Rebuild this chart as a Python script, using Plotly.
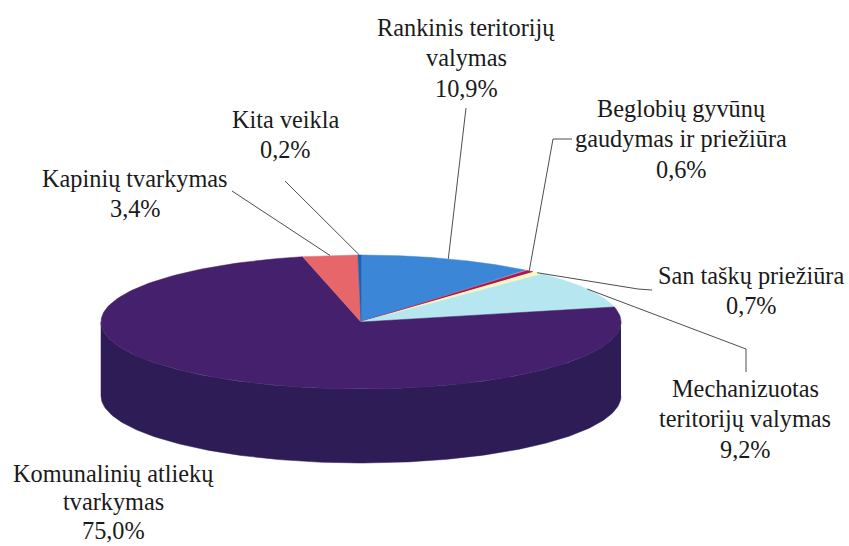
import numpy as np
import plotly.graph_objects as go

# ---- data ----
categories = ["Rankinis teritorijų valymas", "Beglobių gyvūnų gaudymas ir priežiūra",
              "San taškų priežiūra", "Mechanizuotas teritorijų valymas",
              "Komunalinių atliekų tvarkymas", "Kapinių tvarkymas", "Kita veikla"]
shares = [10.9, 0.6, 0.7, 9.2, 75.0, 3.4, 0.2]
label_lines = [["Rankinis teritorijų", "valymas", "10,9%"],
               ["Beglobių gyvūnų", "gaudymas ir priežiūra", "0,6%"],
               ["San taškų priežiūra", "0,7%"],
               ["Mechanizuotas", "teritorijų valymas", "9,2%"],
               ["Komunalinių atliekų", "tvarkymas", "75,0%"],
               ["Kapinių tvarkymas", "3,4%"],
               ["Kita veikla", "0,2%"]]

# ---- styling / layout ----
top_colors = ["#3b86d6", "#ae1650", "#fbf7bd", "#b6e6ef", "#45206d", "#e7666a", "#1f62ae"]
side_colors = ["#2a5f98", "#7a1038", "#b0ad85", "#80a2a8", "#2e1c56", "#a3484b", "#164578"]
CX, CY, RX, RY, DEPTH = 361, 322, 260, 67, 74
W, H = 849, 546
FONT = dict(family="Liberation Serif", size=24.3, color="#1a1a1a")
# label centre x / y of first line / line spacing
label_pos = [(466, 27), (681, 108), (751, 275), (745, 388), (113, 473), (135, 178), (285, 119)]
label_gap = [30.7, 30.7, 30.7, 30.7, 28.5, 30.7, 30.7]
# leader elbows, from text to the slice
leader_via = [[(466, 108)], [(572, 139), (553, 139)], [(652, 290), (638, 289)],
              [(746, 372), (746, 349)], [], [(232, 191)], [(285, 181)]]


def pt(deg, dy=0.0):
    r = np.radians(deg)
    return CX + RX * np.sin(r), CY - RY * np.cos(r) + dy


fig = go.Figure()


def poly(xs, ys, color):
    fig.add_trace(go.Scatter(x=xs, y=ys, mode="lines", fill="toself", fillcolor=color,
                             line=dict(color=color, width=0.5), hoverinfo="skip",
                             showlegend=False))


edges = np.cumsum([0] + shares) / sum(shares) * 360

# side walls first
for i in range(len(shares)):
    a, b = max(edges[i], 90), min(edges[i + 1], 270)
    if b <= a:
        continue
    t = np.linspace(a, b, 200)
    x1, y1 = pt(t)
    x2, y2 = pt(t[::-1], DEPTH)
    poly(list(x1) + list(x2), list(y1) + list(y2), side_colors[i])

# top faces
for i in range(len(shares)):
    t = np.linspace(edges[i], edges[i + 1], 200)
    x, y = pt(t)
    poly([CX] + list(x) + [CX], [CY] + list(y) + [CY], top_colors[i])

# leaders, anchored at each slice's mid angle
for i in range(len(shares)):
    via = leader_via[i]
    if not via:
        continue
    ax, ay = pt((edges[i] + edges[i + 1]) / 2)
    xs = [p[0] for p in via] + [ax]
    ys = [p[1] for p in via] + [ay]
    fig.add_trace(go.Scatter(x=xs, y=ys, mode="lines", line=dict(color="#4d4d4d", width=1),
                             hoverinfo="skip", showlegend=False))

# labels
for lines, (lx, ly), gap in zip(label_lines, label_pos, label_gap):
    for j, s in enumerate(lines):
        fig.add_annotation(x=lx, y=ly + j * gap, text=s, showarrow=False, xanchor="center",
                           yanchor="middle", font=FONT, xref="x", yref="y")

fig.update_layout(width=W, height=H, margin=dict(l=0, r=0, t=0, b=0),
                  paper_bgcolor="white", plot_bgcolor="white", showlegend=False,
                  xaxis=dict(range=[0, W], visible=False, fixedrange=True),
                  yaxis=dict(range=[H, 0], visible=False, fixedrange=True))
fig.write_html("out.html", config={"displayModeBar": False},
               post_script="document.body.style.margin='0';"
                           "document.documentElement.style.overflow='hidden';")
